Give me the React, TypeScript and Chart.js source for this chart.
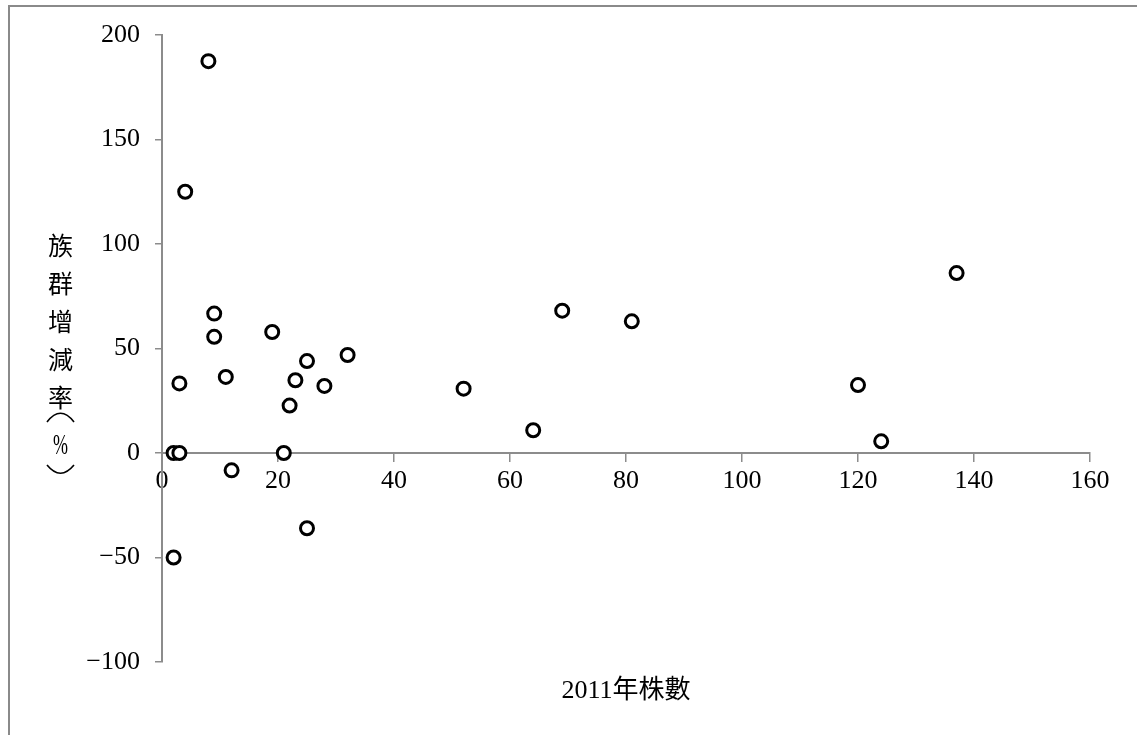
import { useEffect, useRef } from "react";
import { Chart, registerables } from "chart.js";

Chart.register(...registerables);

// Stem counts in 2011 (x) and population change rate in % (y), one entry per group
const stemCounts2011 = [2, 3, 21, 12, 2, 25, 3, 4, 8, 9, 9, 11, 19, 22, 23, 25, 28, 32, 52, 64, 69, 81, 120, 124, 137];
const growthRates = [0, 0, 0, -8.3, -50, -36, 33.3, 125, 187.5, 66.7, 55.6, 36.4, 57.9, 22.7, 34.8, 44, 32.1, 46.9, 30.8, 10.9, 68.1, 63, 32.5, 5.6, 86.1];

const xTitle = "2011年株數";
const yTitleChars = ["族", "群", "增", "減", "率"];
const yTitleUnit = "%";

const W = 1137;
const H = 735;
const AXIS_GRAY = "#8c8c8c";
const FONT_FAMILY = "'Liberation Serif', 'DejaVu Serif', 'Noto Sans CJK TC', serif";

const titlesPlugin = {
  id: "titles",
  beforeDraw(chart: any) {
    const ctx = chart.ctx;
    ctx.save();
    ctx.fillStyle = "#ffffff";
    ctx.fillRect(0, 0, chart.width, chart.height);
    // outer frame
    ctx.strokeStyle = "#8a8a8a";
    ctx.lineWidth = 2;
    ctx.beginPath();
    ctx.moveTo(9, chart.height);
    ctx.lineTo(9, 6);
    ctx.lineTo(chart.width, 6);
    ctx.stroke();
    ctx.restore();
  },
  afterDraw(chart: any) {
    const ctx = chart.ctx;
    const area = chart.chartArea;
    ctx.save();
    ctx.fillStyle = "#000000";
    ctx.font = `26px ${FONT_FAMILY}`;
    ctx.textAlign = "center";
    ctx.textBaseline = "middle";
    ctx.fillText(xTitle, (area.left + area.right) / 2, 691);

    // vertical y-axis title, one glyph per line
    const cx = 60.5;
    let y = 245;
    ctx.font = `25px 'Noto Sans CJK TC', ${FONT_FAMILY}`;
    yTitleChars.forEach((ch) => {
      ctx.fillText(ch, cx, y);
      y += 38;
    });

    // vertical-style brackets around the unit
    ctx.strokeStyle = "#000000";
    ctx.lineWidth = 1.6;
    ctx.beginPath();
    ctx.moveTo(cx - 13.5, 422);
    ctx.quadraticCurveTo(cx, 404.6, cx + 13.5, 422);
    ctx.stroke();
    ctx.beginPath();
    ctx.moveTo(cx - 13.5, 465);
    ctx.quadraticCurveTo(cx, 481.4, cx + 13.5, 465);
    ctx.stroke();

    ctx.save();
    ctx.translate(cx, 446);
    ctx.scale(0.62, 1);
    ctx.font = `29px ${FONT_FAMILY}`;
    ctx.fillText(yTitleUnit, 0, 0);
    ctx.restore();
    ctx.restore();
  },
};

export default function App() {
  const canvasRef = useRef<HTMLCanvasElement | null>(null);

  useEffect(() => {
    const canvas = canvasRef.current;
    if (!canvas) return;
    const points = stemCounts2011.map((x, i) => ({ x, y: growthRates[i] }));
    const chart = new Chart(canvas, {
      type: "scatter",
      data: {
        datasets: [
          {
            data: points,
            pointRadius: 6.5,
            pointHoverRadius: 6.5,
            pointBorderWidth: 3,
            pointBorderColor: "#000000",
            pointBackgroundColor: "#ffffff",
          },
        ],
      },
      options: {
        responsive: false,
        animation: false,
        devicePixelRatio: 1,
        layout: { padding: { top: 35, right: 47, bottom: 73, left: 0 } },
        plugins: {
          legend: { display: false },
          tooltip: { enabled: false },
        },
        scales: {
          x: {
            type: "linear",
            position: { y: 0 } as any,
            min: 0,
            max: 160,
            ticks: {
              stepSize: 20,
              padding: 5,
              color: "#000000",
              font: { family: FONT_FAMILY, size: 26 },
              maxRotation: 0,
            },
            grid: {
              drawOnChartArea: false,
              drawTicks: true,
              tickLength: 8,
              color: AXIS_GRAY,
              lineWidth: 1.5,
            },
            border: { display: true, color: AXIS_GRAY, width: 2 },
          },
          y: {
            type: "linear",
            min: -100,
            max: 200,
            afterFit(scale: any) {
              scale.width = 162;
            },
            ticks: {
              stepSize: 50,
              padding: 15,
              color: "#000000",
              font: { family: FONT_FAMILY, size: 26 },
              callback: (v: any) => (Number(v) < 0 ? "−" + Math.abs(Number(v)) : String(v)),
            },
            grid: {
              drawOnChartArea: false,
              drawTicks: true,
              tickLength: 7,
              color: AXIS_GRAY,
              lineWidth: 1.5,
            },
            border: { display: true, color: AXIS_GRAY, width: 2 },
          },
        },
      },
      plugins: [titlesPlugin],
    });
    return () => chart.destroy();
  }, []);

  return (
    <div style={{ position: "fixed", left: 0, top: 0, width: W, height: H, background: "#fff" }}>
      <canvas ref={canvasRef} width={W} height={H} style={{ display: "block" }} />
    </div>
  );
}
